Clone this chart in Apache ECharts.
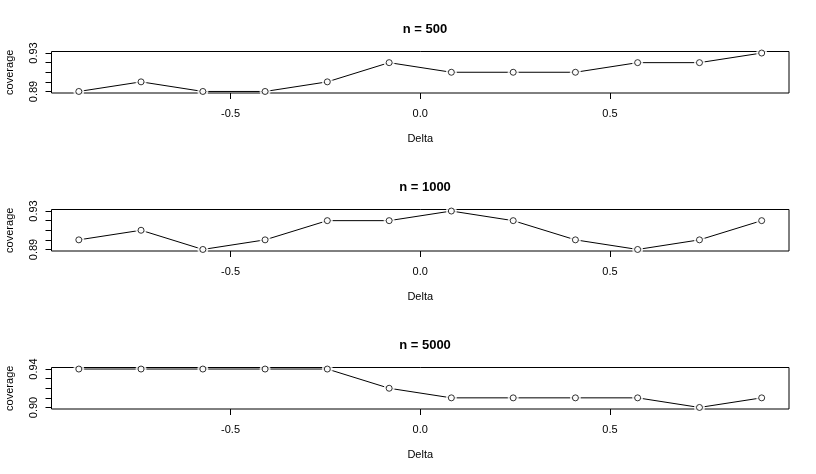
<!DOCTYPE html>
<html>
<head>
<meta charset="utf-8">
<script src="https://cdn.jsdelivr.net/npm/echarts@6/dist/echarts.min.js"></script>
<style>
html,body{margin:0;padding:0;background:#fff;}
#chart{width:816px;height:474px;}
</style>
</head>
<body>
<div id="chart"></div>
<script>
// Data
var delta = [-0.900, -0.736, -0.573, -0.409, -0.245, -0.082, 0.082, 0.245, 0.409, 0.573, 0.736, 0.900];
var titles = ['n = 500', 'n = 1000', 'n = 5000'];
var cov500  = [0.89, 0.90, 0.89, 0.89, 0.90, 0.92, 0.91, 0.91, 0.91, 0.92, 0.92, 0.93];
var cov1000 = [0.90, 0.91, 0.89, 0.90, 0.92, 0.92, 0.93, 0.92, 0.90, 0.89, 0.90, 0.92];
var cov5000 = [0.94, 0.94, 0.94, 0.94, 0.94, 0.92, 0.91, 0.91, 0.91, 0.91, 0.90, 0.91];
var xTicks = [-0.5, 0.0, 0.5];
var yTicks = [
  [0.89, 0.90, 0.91, 0.92, 0.93],
  [0.89, 0.90, 0.91, 0.92, 0.93],
  [0.90, 0.91, 0.92, 0.93, 0.94]
];
var yLabels = [[0.89, 0.93], [0.89, 0.93], [0.90, 0.94]];
var allCov = [cov500, cov1000, cov5000];

var panelTops = [51.5, 209.5, 367.5];
var panelH = 41.5;
var font = 'Liberation Sans, Arial, sans-serif';

function pad(lo, hi) { var r = hi - lo; return [lo - 0.04 * r, hi + 0.04 * r]; }

var grids = [], xAxes = [], yAxes = [], series = [], titleArr = [];
for (var i = 0; i < 3; i++) {
  grids.push({left: 51.5, right: 27, top: panelTops[i], height: panelH, show: true,
    outerBoundsMode: 'none', containLabel: false,
    borderColor: '#000', borderWidth: 1, backgroundColor: 'transparent'});
  var xr = pad(-0.9, 0.9);
  xAxes.push({type: 'value', gridIndex: i, min: xr[0], max: xr[1],
    name: 'Delta', nameLocation: 'middle', nameGap: 40,
    nameTextStyle: {fontFamily: font, fontSize: 11, color: '#000'},
    axisLine: {show: false, onZero: false},
    splitLine: {show: false},
    axisTick: {show: true, length: 6, inside: false, customValues: xTicks, lineStyle: {color: '#000', width: 1}},
    axisLabel: {customValues: xTicks, margin: 15, fontFamily: font, fontSize: 11, color: '#000',
      formatter: function (v) { return v.toFixed(1); }}
  });
  var yt = yTicks[i];
  var yr = pad(yt[0], yt[yt.length - 1]);
  yAxes.push({type: 'value', gridIndex: i, min: yr[0], max: yr[1],
    name: 'coverage', nameLocation: 'middle', nameGap: 36, nameRotate: 90,
    nameTextStyle: {fontFamily: font, fontSize: 11, color: '#000'},
    axisLine: {show: false, onZero: false},
    splitLine: {show: false},
    axisTick: {show: true, length: 6, inside: false, customValues: yt, lineStyle: {color: '#000', width: 1}},
    axisLabel: {customValues: yLabels[i], rotate: 90, margin: 12, fontFamily: font, fontSize: 11, color: '#000',
      formatter: function (v) { return v.toFixed(2); }}
  });
  var pts = delta.map(function (d, j) { return [d, allCov[i][j]]; });
  series.push({type: 'line', xAxisIndex: i, yAxisIndex: i, data: pts, symbol: 'none',
    lineStyle: {color: '#000', width: 1}, z: 2, silent: true, animation: false});
  series.push({type: 'scatter', xAxisIndex: i, yAxisIndex: i, data: pts, symbol: 'circle', symbolSize: 11,
    itemStyle: {color: '#fff', borderWidth: 0}, z: 3, silent: true, animation: false});
  series.push({type: 'scatter', xAxisIndex: i, yAxisIndex: i, data: pts, symbol: 'circle', symbolSize: 6,
    itemStyle: {color: '#fff', borderColor: '#000', borderWidth: 1}, z: 4, silent: true, animation: false});
  titleArr.push({text: titles[i], left: 420, top: panelTops[i] - 34, textAlign: 'center',
    textStyle: {fontFamily: font, fontSize: 13, fontWeight: 'bold', color: '#000'}});
}

var chart = echarts.init(document.getElementById('chart'), null, {renderer: 'canvas'});
chart.setOption({
  backgroundColor: '#fff',
  animation: false,
  title: titleArr,
  grid: grids,
  xAxis: xAxes,
  yAxis: yAxes,
  series: series
});
</script>
</body>
</html>
